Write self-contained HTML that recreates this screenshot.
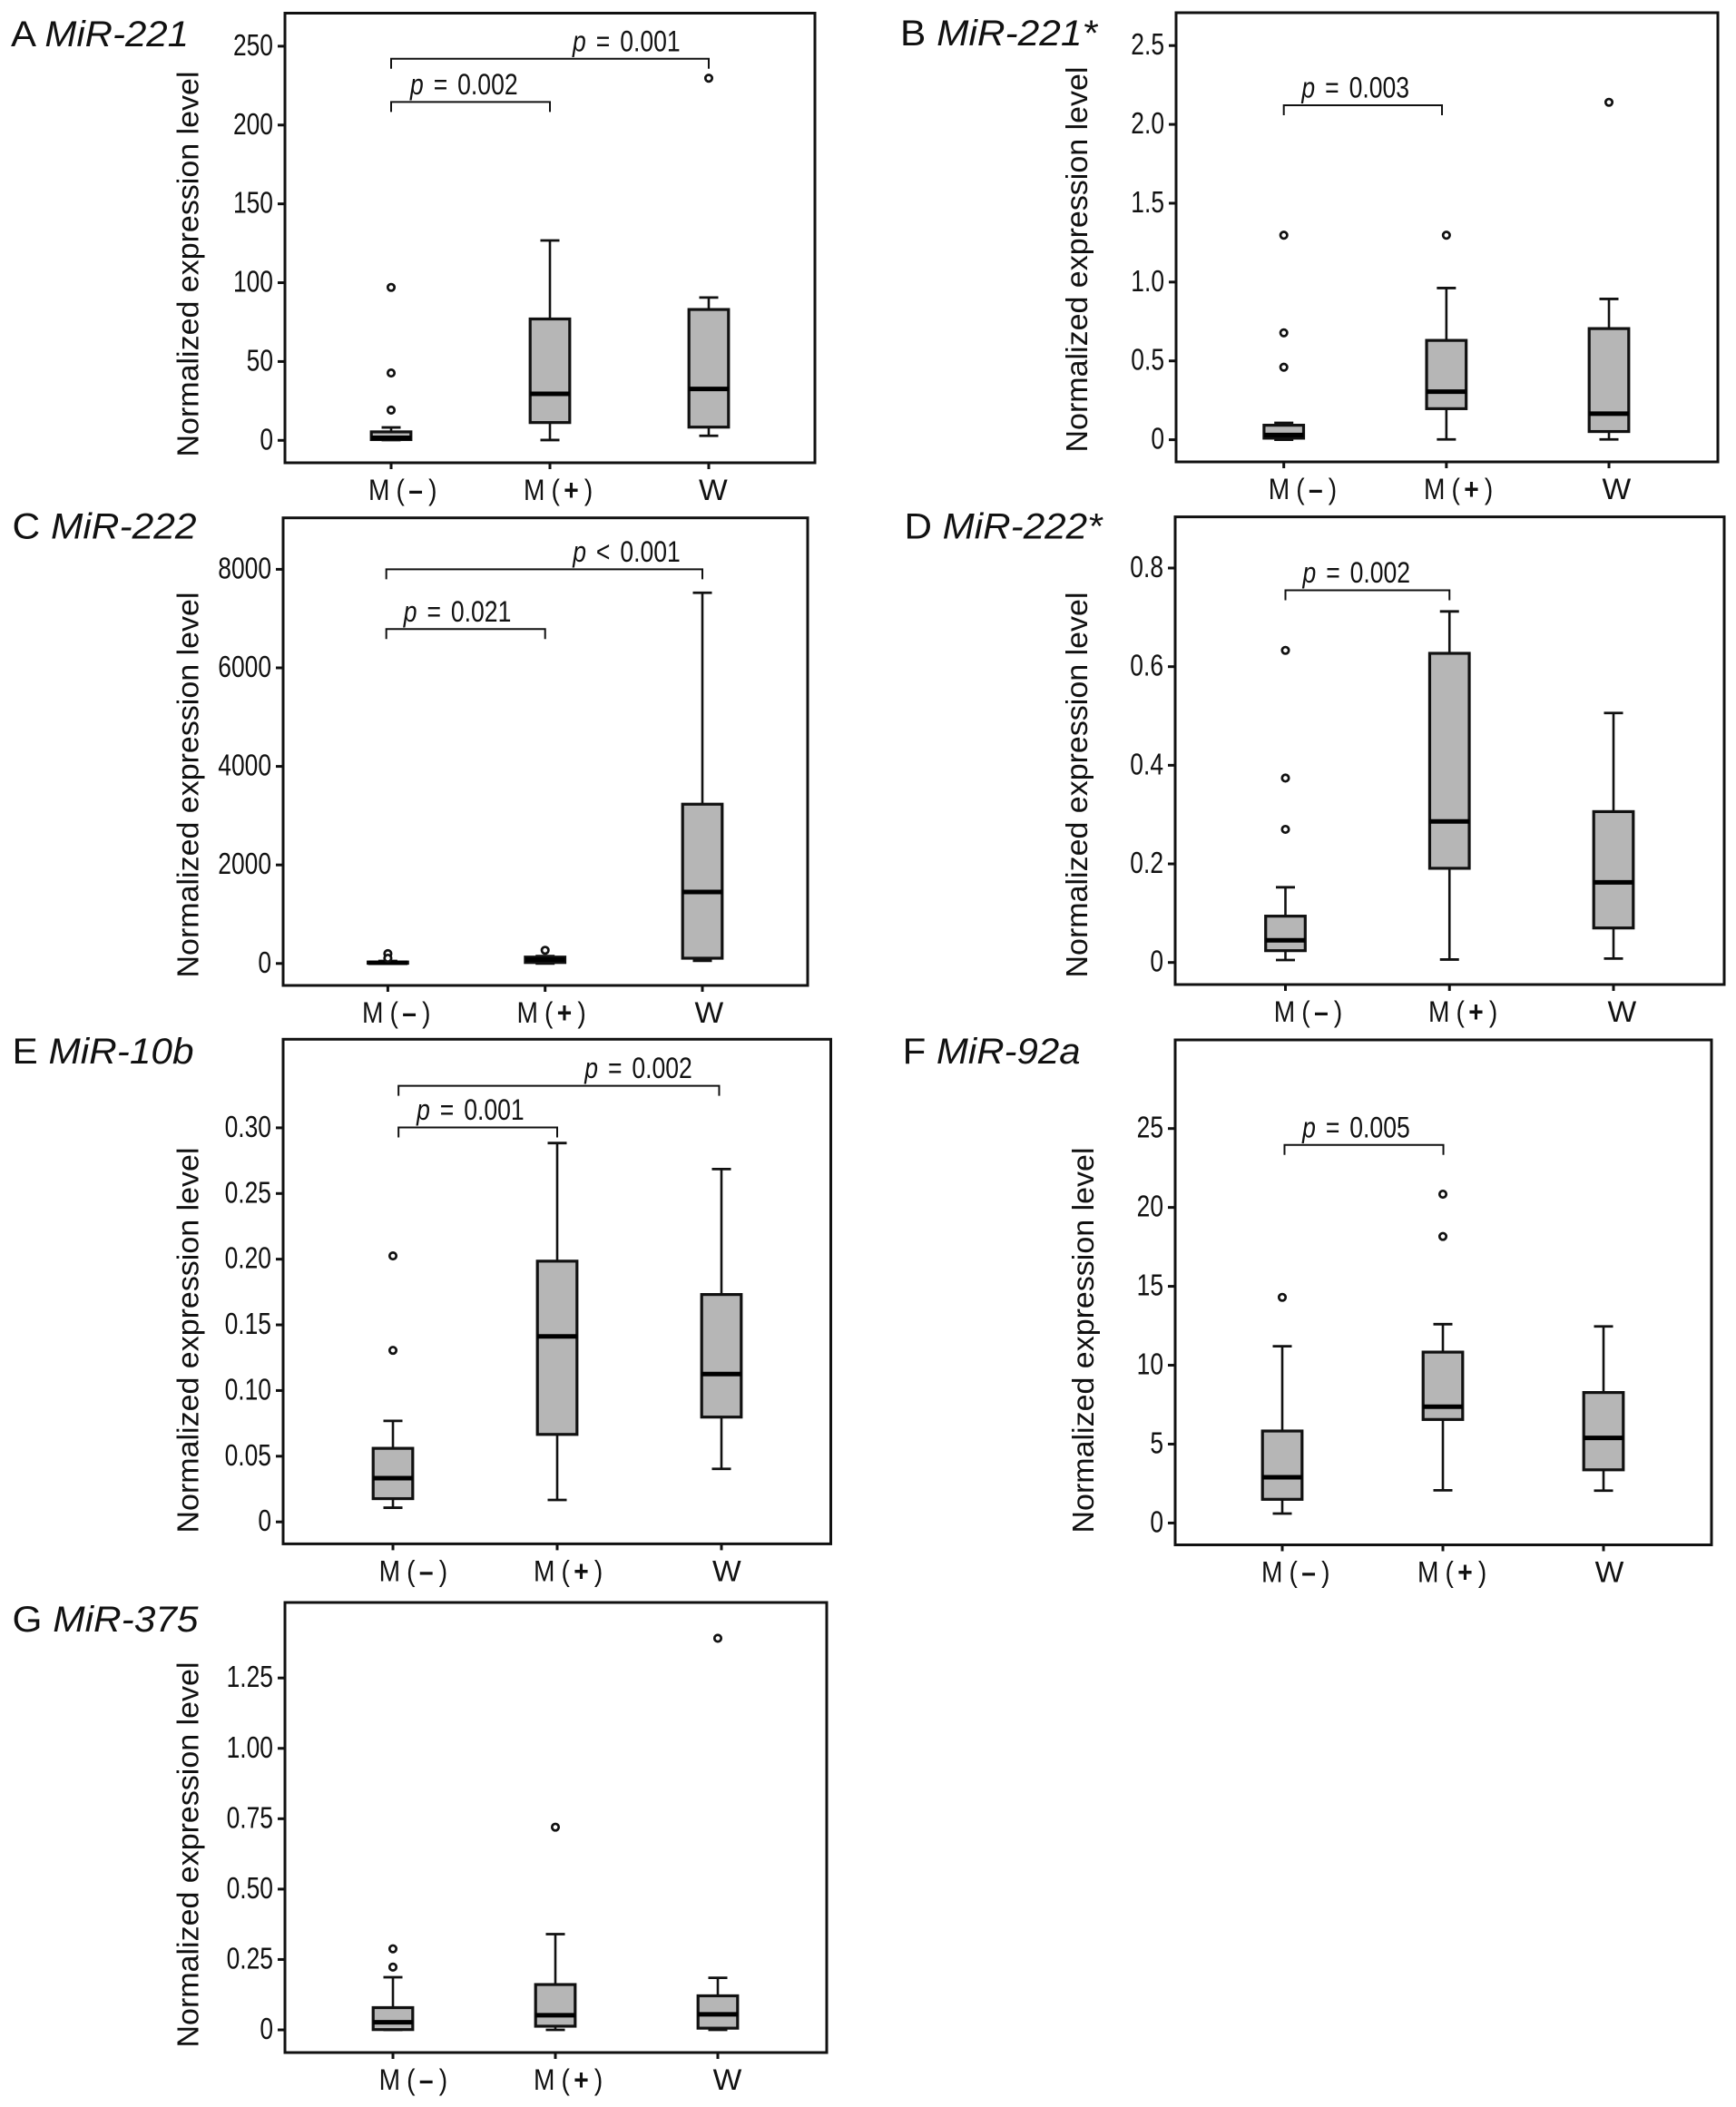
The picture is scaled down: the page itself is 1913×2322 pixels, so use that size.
<!DOCTYPE html>
<html lang="en">
<head>
<meta charset="utf-8">
<title>Normalized microRNA expression box plots</title>
<style>
html,body{margin:0;padding:0;background:#fff;}
body{width:1913px;height:2322px;overflow:hidden;}
svg{display:block;font-family:"Liberation Sans",Arial,sans-serif;fill:#111;}
</style>
</head>
<body>
<svg id="fig" xmlns="http://www.w3.org/2000/svg" width="1913" height="2322" viewBox="0 0 1913 2322"></svg>
<script>
const categories = ['M(–)', 'M(+)', 'W'];
const yAxisTitle = 'Normalized expression level';

/* A MiR-221 */
const a_tickValues = [0, 50, 100, 150, 200, 250];
const a_tickLabels = ['0', '50', '100', '150', '200', '250'];
const a_low = [0.2, 0.2, 2.9];
const a_q1 = [0.5, 11.3, 8.4];
const a_median = [1.6, 29.5, 32.6];
const a_q3 = [5.4, 77, 83];
const a_high = [8.2, 126.8, 90.6];
const a_outliers = [[97, 42.7, 19.2], [], [229.7]];
const a_bracketLevels = [214.6, 242];
const a_bracketFrom = [0, 0];
const a_bracketTo = [1, 2];
const a_pOperators = ['=', '='];
const a_pValues = ['0.002', '0.001'];
const a_pLabelAt = [0.12, 1.143];

/* B MiR-221* */
const b_tickValues = [0, 0.5, 1, 1.5, 2, 2.5];
const b_tickLabels = ['0', '0.5', '1.0', '1.5', '2.0', '2.5'];
const b_low = [0, 0.002, 0.002];
const b_q1 = [0.01, 0.197, 0.052];
const b_median = [0.03, 0.305, 0.165];
const b_q3 = [0.092, 0.63, 0.705];
const b_high = [0.107, 0.962, 0.893];
const b_outliers = [[1.297, 0.678, 0.46], [1.297], [2.14]];
const b_bracketLevels = [2.121];
const b_bracketFrom = [0];
const b_bracketTo = [0.973];
const b_pOperators = ['='];
const b_pValues = ['0.003'];
const b_pLabelAt = [0.11];

/* C MiR-222 */
const c_tickValues = [0, 2000, 4000, 6000, 8000];
const c_tickLabels = ['0', '2000', '4000', '6000', '8000'];
const c_low = [0, 0, 54];
const c_q1 = [5, 20, 107];
const c_median = [15, 80, 1452];
const c_q3 = [30, 130, 3233];
const c_high = [50, 150, 7524];
const c_outliers = [[200, 107], [268], []];
const c_bracketLevels = [6787, 8000];
const c_bracketFrom = [-0.01, -0.01];
const c_bracketTo = [1, 2];
const c_pOperators = ['=', '<'];
const c_pValues = ['0.021', '0.001'];
const c_pLabelAt = [0.1, 1.176];

/* D MiR-222* */
const d_tickValues = [0, 0.2, 0.4, 0.6, 0.8];
const d_tickLabels = ['0', '0.2', '0.4', '0.6', '0.8'];
const d_low = [0.005, 0.006, 0.008];
const d_q1 = [0.024, 0.191, 0.07];
const d_median = [0.045, 0.286, 0.1625];
const d_q3 = [0.094, 0.627, 0.306];
const d_high = [0.1525, 0.712, 0.506];
const d_outliers = [[0.633, 0.374, 0.27], [], []];
const d_bracketLevels = [0.755];
const d_bracketFrom = [0];
const d_bracketTo = [1];
const d_pOperators = ['='];
const d_pValues = ['0.002'];
const d_pLabelAt = [0.105];

/* E MiR-10b */
const e_tickValues = [0, 0.05, 0.1, 0.15, 0.2, 0.25, 0.3];
const e_tickLabels = ['0', '0.05', '0.10', '0.15', '0.20', '0.25', '0.30'];
const e_low = [0.0108, 0.0167, 0.0404];
const e_q1 = [0.0177, 0.0666, 0.0798];
const e_median = [0.0333, 0.1412, 0.1126];
const e_q3 = [0.056, 0.1985, 0.1731];
const e_high = [0.0769, 0.2884, 0.2686];
const e_outliers = [[0.2025, 0.1306], [], []];
const e_bracketLevels = [0.3003, 0.332];
const e_bracketFrom = [0.034, 0.034];
const e_bracketTo = [1, 1.986];
const e_pOperators = ['=', '='];
const e_pValues = ['0.001', '0.002'];
const e_pLabelAt = [0.144, 1.167];

/* F MiR-92a */
const f_tickValues = [0, 5, 10, 15, 20, 25];
const f_tickLabels = ['0', '5', '10', '15', '20', '25'];
const f_low = [0.6, 2.07, 2.05];
const f_q1 = [1.5, 6.56, 3.37];
const f_median = [2.9, 7.37, 5.39];
const f_q3 = [5.83, 10.83, 8.27];
const f_high = [11.2, 12.6, 12.46];
const f_outliers = [[14.3], [20.84, 18.16], []];
const f_bracketLevels = [23.96];
const f_bracketFrom = [0.014];
const f_bracketTo = [1.003];
const f_pOperators = ['='];
const f_pValues = ['0.005'];
const f_pLabelAt = [0.125];

/* G MiR-375 */
const g_tickValues = [0, 0.25, 0.5, 0.75, 1, 1.25];
const g_tickLabels = ['0', '0.25', '0.50', '0.75', '1.00', '1.25'];
const g_low = [0, 0, 0];
const g_q1 = [0.001, 0.013, 0.006];
const g_median = [0.027, 0.052, 0.055];
const g_q3 = [0.079, 0.161, 0.121];
const g_high = [0.187, 0.34, 0.185];
const g_outliers = [[0.288, 0.223], [0.72], [1.391]];
const g_bracketLevels = [];
const g_bracketFrom = [];
const g_bracketTo = [];
const g_pOperators = [];
const g_pValues = [];
const g_pLabelAt = [];

/* Panel frames: layout only; y axis is fixed by the pixel rows of the lowest and highest tick */
const panels = [
  {letter:'A', gene:'MiR-221', L:314, R:898, T:14.5, B:510, y0:485.3, yTop:50.9, g0:431, g2:781, catX:[406,577,770], titleX:218.5, titleY:291, labelX:12, labelY:51, labelW:196,
   ticks:a_tickValues, tickLabels:a_tickLabels, low:a_low, q1:a_q1, med:a_median, q3:a_q3, high:a_high, out:a_outliers, bLevel:a_bracketLevels, bFrom:a_bracketFrom, bTo:a_bracketTo, pOp:a_pOperators, pVal:a_pValues, pAt:a_pLabelAt},
  {letter:'B', gene:'MiR-221*', L:1296, R:1893, T:14, B:509, y0:484.6, yTop:50.2, g0:1414.7, g2:1773, catX:[1397.7,1569,1765.5], titleX:1198, titleY:286, labelX:992, labelY:50, labelW:217,
   ticks:b_tickValues, tickLabels:b_tickLabels, low:b_low, q1:b_q1, med:b_median, q3:b_q3, high:b_high, out:b_outliers, bLevel:b_bracketLevels, bFrom:b_bracketFrom, bTo:b_bracketTo, pOp:b_pOperators, pVal:b_pValues, pAt:b_pLabelAt},
  {letter:'C', gene:'MiR-222', L:312, R:890, T:570.7, B:1086, y0:1061.8, yTop:627.4, g0:427.4, g2:774, catX:[399,569.5,765.5], titleX:218.5, titleY:865, labelX:13.5, labelY:593.6, labelW:203,
   ticks:c_tickValues, tickLabels:c_tickLabels, low:c_low, q1:c_q1, med:c_median, q3:c_q3, high:c_high, out:c_outliers, bLevel:c_bracketLevels, bFrom:c_bracketFrom, bTo:c_bracketTo, pOp:c_pOperators, pVal:c_pValues, pAt:c_pLabelAt},
  {letter:'D', gene:'MiR-222*', L:1295, R:1900, T:569.6, B:1085, y0:1060.7, yTop:626, g0:1416.5, g2:1778, catX:[1403.8,1574,1771.5], titleX:1198, titleY:865, labelX:996.5, labelY:593.6, labelW:218,
   ticks:d_tickValues, tickLabels:d_tickLabels, low:d_low, q1:d_q1, med:d_median, q3:d_q3, high:d_high, out:d_outliers, bLevel:d_bracketLevels, bFrom:d_bracketFrom, bTo:d_bracketTo, pOp:d_pOperators, pVal:d_pValues, pAt:d_pLabelAt},
  {letter:'E', gene:'MiR-10b', L:312, R:915.5, T:1145.3, B:1701.4, y0:1677.2, yTop:1242.9, g0:433, g2:795, catX:[417.6,588,785], titleX:218.5, titleY:1477, labelX:13.5, labelY:1172, labelW:200,
   ticks:e_tickValues, tickLabels:e_tickLabels, low:e_low, q1:e_q1, med:e_median, q3:e_q3, high:e_high, out:e_outliers, bLevel:e_bracketLevels, bFrom:e_bracketFrom, bTo:e_bracketTo, pOp:e_pOperators, pVal:e_pValues, pAt:e_pLabelAt},
  {letter:'F', gene:'MiR-92a', L:1295, R:1886, T:1146, B:1702.5, y0:1678.4, yTop:1243.7, g0:1413, g2:1767, catX:[1390,1562,1757.6], titleX:1205, titleY:1477, labelX:994.6, labelY:1172, labelW:196,
   ticks:f_tickValues, tickLabels:f_tickLabels, low:f_low, q1:f_q1, med:f_median, q3:f_q3, high:f_high, out:f_outliers, bLevel:f_bracketLevels, bFrom:f_bracketFrom, bTo:f_bracketTo, pOp:f_pOperators, pVal:f_pValues, pAt:f_pLabelAt},
  {letter:'G', gene:'MiR-375', L:314, R:911, T:1766, B:2262, y0:2237, yTop:1849.2, g0:433, g2:791, catX:[417.6,588,785.6], titleX:218.5, titleY:2044, labelX:13.5, labelY:1798, labelW:205,
   ticks:g_tickValues, tickLabels:g_tickLabels, low:g_low, q1:g_q1, med:g_median, q3:g_q3, high:g_high, out:g_outliers, bLevel:g_bracketLevels, bFrom:g_bracketFrom, bTo:g_bracketTo, pOp:g_pOperators, pVal:g_pValues, pAt:g_pLabelAt}
];

const NS = 'http://www.w3.org/2000/svg';
const INK = '#111';
const BOX_FILL = '#b6b6b6';
const BOX_HALF = 21.8;
const CAP_HALF = 10.5;
const CAT_SCALE = 0.88;
const CAT_GAPS = [0, 8, 5, 7];

function make(tag, attrs, parent) {
  const node = document.createElementNS(NS, tag);
  for (const key in attrs) node.setAttribute(key, attrs[key]);
  parent.appendChild(node);
  return node;
}

function drawPanel(p, fig) {
  const slug = p.gene.toLowerCase().replace('*', '-star');
  const maxTick = p.ticks[p.ticks.length - 1];
  const yAxis = function (v) { return p.y0 - v * (p.y0 - p.yTop) / maxTick; };
  const xAxis = function (i) { return p.g0 + i * (p.g2 - p.g0) / 2; };

  const group = make('g', {}, fig);
  
  

  const heading = make('text', {x: p.labelX, y: p.labelY, 'font-size': 40, textLength: p.labelW, lengthAdjust: 'spacingAndGlyphs'}, group);
  
  
  heading.appendChild(document.createTextNode(p.letter + ' '));
  const geneSpan = make('tspan', {'font-style': 'italic'}, heading);
  geneSpan.textContent = p.gene;

  const frame = make('rect', {x: p.L, y: p.T, width: p.R - p.L, height: p.B - p.T, fill: '#fff', stroke: INK, 'stroke-width': 3}, group);
  
  

  const title = make('text', {transform: 'translate(' + p.titleX + ',' + p.titleY + ') rotate(-90)', 'text-anchor': 'middle', 'font-size': 33.5, textLength: 425, lengthAdjust: 'spacingAndGlyphs'}, group);
  
  
  title.textContent = yAxisTitle;

  p.ticks.forEach(function (value, i) {
    const y = yAxis(value);
    const tick = make('line', {x1: p.L - 8, x2: p.L, y1: y, y2: y, stroke: INK, 'stroke-width': 3}, group);
    
    
    const label = make('text', {transform: 'translate(' + (p.L - 13) + ',' + (y + 10) + ') scale(0.8,1)', 'text-anchor': 'end', 'font-size': 33}, group);
    
    
    label.textContent = p.tickLabels[i];
  });

  categories.forEach(function (cat, i) {
    const x = xAxis(i);
    const key = ['m-minus', 'm-plus', 'w'][i];

    const tick = make('line', {x1: x, x2: x, y1: p.B, y2: p.B + 7, stroke: INK, 'stroke-width': 3}, group);
    
    

    const catLabel = make('text', {transform: 'translate(' + p.catX[i] + ',' + (p.B + 41) + ') scale(' + CAT_SCALE + ',1)', 'font-size': 32}, group);
    
    
    if (cat === 'W') {
      catLabel.setAttribute('textLength', 36);
      catLabel.setAttribute('lengthAdjust', 'spacingAndGlyphs');
      catLabel.textContent = cat;
    } else {
      Array.from(cat).forEach(function (ch, c) {
        const part = make('tspan', {dx: CAT_GAPS[c]}, catLabel);
        if (c === 2) part.setAttribute('font-weight', 'bold');
        part.textContent = ch;
      });
    }

    const whisker = make('line', {x1: x, x2: x, y1: yAxis(p.high[i]), y2: yAxis(p.low[i]), stroke: INK, 'stroke-width': 2.6}, group);
    
    

    const capHigh = make('line', {x1: x - CAP_HALF, x2: x + CAP_HALF, y1: yAxis(p.high[i]), y2: yAxis(p.high[i]), stroke: INK, 'stroke-width': 2.8}, group);
    
    

    const capLow = make('line', {x1: x - CAP_HALF, x2: x + CAP_HALF, y1: yAxis(p.low[i]), y2: yAxis(p.low[i]), stroke: INK, 'stroke-width': 2.8}, group);
    
    

    const box = make('rect', {x: x - BOX_HALF, y: yAxis(p.q3[i]), width: BOX_HALF * 2, height: yAxis(p.q1[i]) - yAxis(p.q3[i]), fill: BOX_FILL, stroke: INK, 'stroke-width': 3.2}, group);
    
    

    const median = make('line', {x1: x - BOX_HALF, x2: x + BOX_HALF, y1: yAxis(p.med[i]), y2: yAxis(p.med[i]), stroke: '#000', 'stroke-width': 5}, group);
    
    

    p.out[i].forEach(function (value) {
      const point = make('circle', {cx: x, cy: yAxis(value), r: 3.7, fill: '#fff', stroke: INK, 'stroke-width': 2.7}, group);
      
      
    });
  });

  p.bLevel.forEach(function (level, i) {
    const y = yAxis(level);
    const x1 = xAxis(p.bFrom[i]);
    const x2 = xAxis(p.bTo[i]);
    const bracket = make('path', {d: 'M' + x1 + ' ' + (y + 11) + 'V' + y + 'H' + x2 + 'V' + (y + 11), fill: 'none', stroke: INK, 'stroke-width': 2}, group);
    
    

    const pText = make('text', {transform: 'translate(' + xAxis(p.pAt[i]) + ',' + (y - 8.5) + ') scale(0.83,1)', 'font-size': 32, 'word-spacing': 4.3}, group);
    
    
    const pSpan = make('tspan', {'font-style': 'italic'}, pText);
    pSpan.textContent = 'p';
    pText.appendChild(document.createTextNode(' ' + p.pOp[i] + ' ' + p.pVal[i]));
  });
}

const fig = document.getElementById('fig');
panels.forEach(function (p) { drawPanel(p, fig); });
</script>
</body>
</html>
